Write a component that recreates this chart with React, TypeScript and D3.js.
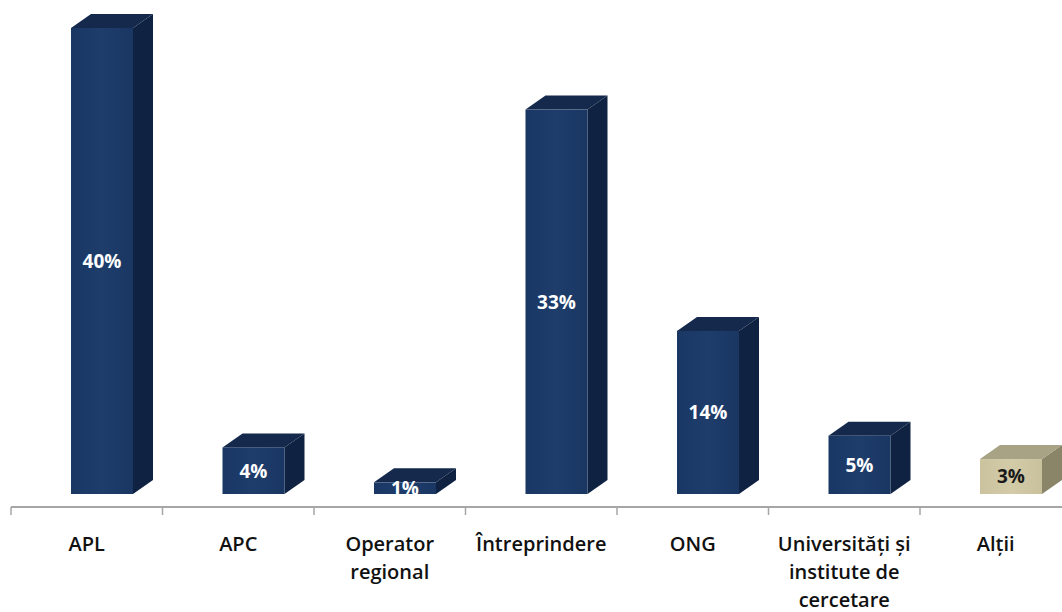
import React from "react";
import * as d3 from "d3";

const categories = ["APL", "APC", "Operator regional", "Întreprindere", "ONG", "Universități și institute de cercetare", "Alții"];
const categoryLines = [["APL"], ["APC"], ["Operator", "regional"], ["Întreprindere"], ["ONG"], ["Universități și", "institute de", "cercetare"], ["Alții"]];
const values = [40, 4, 1, 33, 14, 5, 3];
const labels = ["40%", "4%", "1%", "33%", "14%", "5%", "3%"];
const highlight = [false, false, false, false, false, false, true];

const W = 1062;
const H = 612;
const DX = 20;
const DY = -14;

export default function App() {
  const x = d3.scaleBand<string>().domain(categories).range([11, 11 + 7 * 151.5]).paddingInner(0).paddingOuter(0);
  const y = d3.scaleLinear().domain([0, 40]).range([494, 28]);
  const axisY = 507;
  const barOffset = 60;
  const barW = 62;
  const ticks = categories.map((c) => x(c)!);
  const font = "'Open Sans', Lato, sans-serif";

  return (
    <svg width={W} height={H} style={{ position: "absolute", left: 0, top: 0, background: "#fff" }}>
      <defs>
        <linearGradient id="blueFront" x1="0" x2="1" y1="0" y2="0">
          <stop offset="0" stopColor="#1a3764" />
          <stop offset="0.5" stopColor="#1e3d6b" />
          <stop offset="1" stopColor="#1a3663" />
        </linearGradient>
        <linearGradient id="tanFront" x1="0" x2="1" y1="0" y2="0">
          <stop offset="0" stopColor="#cbc39e" />
          <stop offset="0.5" stopColor="#d3cba8" />
          <stop offset="1" stopColor="#c9c19c" />
        </linearGradient>
      </defs>
      <line x1={11} x2={W} y1={axisY} y2={axisY} stroke="#a6a6a6" strokeWidth={2} />
      {ticks.map((t, i) => (
        <line key={i} x1={t} x2={t} y1={axisY} y2={axisY + 8} stroke="#a6a6a6" strokeWidth={1.5} />
      ))}
      {categories.map((c, i) => {
        const x0 = x(c)! + barOffset;
        const x1 = x0 + barW;
        const yT = y(values[i]);
        const yB = y(0);
        const hl = highlight[i];
        const front = hl ? "url(#tanFront)" : "url(#blueFront)";
        const top = hl ? "#a9a386" : "#14294b";
        const side = hl ? "#8a8568" : "#0f2241";
        return (
          <g key={c}>
            <polygon points={`${x1},${yT} ${x1 + DX},${yT + DY} ${x1 + DX},${yB + DY} ${x1},${yB}`} fill={side} />
            <polygon points={`${x0},${yT} ${x0 + DX},${yT + DY} ${x1 + DX},${yT + DY} ${x1},${yT}`} fill={top} />
            <rect x={x0} y={yT} width={barW} height={yB - yT} fill={front} />
            <text
              x={x0 + barW / 2}
              y={(yT + yB) / 2}
              dy="0.36em"
              textAnchor="middle"
              fontFamily={font}
              fontWeight="bold"
              fontSize={19}
              fill={hl ? "#1a1a1a" : "#ffffff"}
            >
              {labels[i]}
            </text>
          </g>
        );
      })}
      {categories.map((c, i) => (
        <text
          key={c}
          x={x(c)! + x.bandwidth() / 2}
          y={551}
          textAnchor="middle"
          fontFamily={font}
          fontWeight={600}
          fontSize={20}
          fill="#111"
        >
          {categoryLines[i].map((l, j) => (
            <tspan key={j} x={x(c)! + x.bandwidth() / 2} dy={j === 0 ? 0 : 28}>
              {l}
            </tspan>
          ))}
        </text>
      ))}
    </svg>
  );
}
